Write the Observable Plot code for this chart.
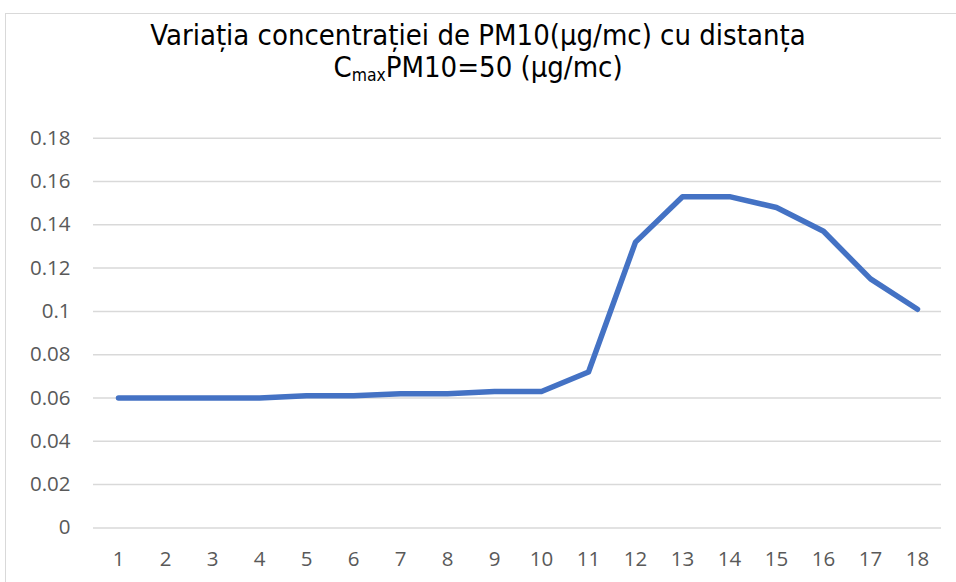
<!DOCTYPE html>
<html>
<head>
<meta charset="utf-8">
<script src="https://cdn.jsdelivr.net/npm/d3@7"></script>
<script src="https://cdn.jsdelivr.net/npm/@observablehq/plot@0.6"></script>
<style>
  html, body { margin: 0; padding: 0; background: #fff; }
  #wrap { position: relative; width: 956px; height: 582px; overflow: hidden; }
  #frame { position: absolute; left: 5px; top: 13px; width: 1000px; height: 1000px;
           border-top: 1.5px solid #d9d9d9; border-left: 1.5px solid #d9d9d9; box-sizing: border-box; }
  #title { position: relative; height: 110px; width: 956px; text-align: center;
           font-family: "DejaVu Sans Condensed", "DejaVu Sans", sans-serif; font-size: 29px;
           line-height: 29px; color: #000; }
  #title .l1 { position: absolute; left: 0; right: 0; top: 21px; }
  #title .l2 { position: absolute; left: 0; right: 0; top: 53px; }
  #title sub { font-size: 0.6em; vertical-align: -0.22em; line-height: 0; }
  #chart { position: relative; }
</style>
</head>
<body>
<div id="wrap">
  <div id="frame"></div>
  <div id="title">
    <div class="l1">Variația concentrației de PM10(µg/mc) cu distanța</div>
    <div class="l2">C<sub>max</sub>PM10=50 (µg/mc)</div>
  </div>
  <div id="chart"></div>
</div>
<script>
const distances = [1,2,3,4,5,6,7,8,9,10,11,12,13,14,15,16,17,18];
const concentrations = [0.06,0.06,0.06,0.06,0.061,0.061,0.062,0.062,0.063,0.063,0.072,0.132,0.153,0.153,0.148,0.137,0.115,0.101];
const yTicks = [0,0.02,0.04,0.06,0.08,0.1,0.12,0.14,0.16,0.18];
const yTickLabels = ["0","0.02","0.04","0.06","0.08","0.1","0.12","0.14","0.16","0.18"];

const data = distances.map((d, i) => ({x: String(d), y: concentrations[i]}));

const plot = Plot.plot({
  width: 956,
  height: 472,
  marginTop: 27.7,
  marginBottom: 54.6,
  marginLeft: 93,
  marginRight: 15,
  style: { fontFamily: "'Open Sans', 'Noto Sans', sans-serif", fontSize: "20.5px", color: "#595959", background: "transparent", overflow: "visible" },
  x: { type: "point", domain: distances.map(String), padding: 0.5, label: null, tickSize: 0, tickPadding: 24 },
  y: { domain: [0, 0.18], ticks: yTicks, tickFormat: (d) => yTickLabels[yTicks.indexOf(d)], label: null, tickSize: 0, tickPadding: 23 },
  marks: [
    Plot.ruleY(yTicks, { stroke: "#d9d9d9", strokeWidth: 1.5 }),
    Plot.line(data, { x: "x", y: "y", stroke: "#4472C4", strokeWidth: 5.5, strokeLinecap: "round", strokeLinejoin: "round" })
  ]
});
document.getElementById("chart").appendChild(plot);
</script>
</body>
</html>
